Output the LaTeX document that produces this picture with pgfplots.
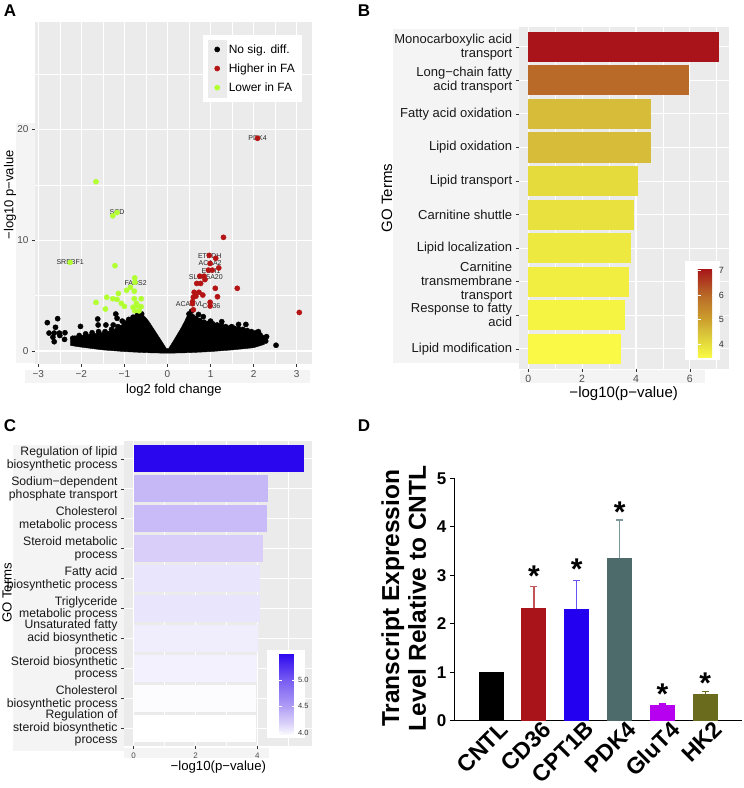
\documentclass[border=0pt]{standalone}
\usepackage{pgfplots}
\pgfplotsset{compat=1.18}
\usepackage{fontspec}
\setmainfont{Liberation Sans}
\definecolor{panelgray}{HTML}{EBEBEB}
\definecolor{stripgray}{HTML}{F4F4F4}
\definecolor{txtgray}{HTML}{4D4D4D}
\definecolor{ptred}{RGB}{180,20,20}
\definecolor{ptgreen}{RGB}{178,255,50}
\definecolor{bA}{RGB}{250,250,70}
\definecolor{bB}{RGB}{245,244,67}
\definecolor{bC}{RGB}{241,237,65}
\definecolor{bD}{RGB}{238,233,64}
\definecolor{bE}{RGB}{233,226,62}
\definecolor{bF}{RGB}{229,219,60}
\definecolor{bG}{RGB}{214,188,56}
\definecolor{bH}{RGB}{214,188,56}
\definecolor{bI}{RGB}{185,106,40}
\definecolor{bJ}{RGB}{168,20,25}
\definecolor{cA}{RGB}{255,255,255}
\definecolor{cB}{RGB}{252,252,255}
\definecolor{cC}{RGB}{243,241,254}
\definecolor{cD}{RGB}{240,238,253}
\definecolor{cE}{RGB}{233,229,252}
\definecolor{cF}{RGB}{233,229,252}
\definecolor{cG}{RGB}{216,206,249}
\definecolor{cH}{RGB}{200,187,247}
\definecolor{cI}{RGB}{198,184,247}
\definecolor{cJ}{RGB}{42,6,238}
\definecolor{dred}{RGB}{168,20,25}
\definecolor{dredl}{RGB}{196,84,88}
\definecolor{dblue}{RGB}{36,0,240}
\definecolor{dbluel}{RGB}{104,84,245}
\definecolor{dslate}{RGB}{78,107,107}
\definecolor{dslatel}{RGB}{125,152,152}
\definecolor{dpurp}{RGB}{184,0,240}
\definecolor{dolive}{RGB}{107,107,30}
\pgfplotsset{
 /pgf/number format/assume math mode=true,
 colormap={yr}{rgb255(0pt)=(250,250,70); rgb255(56pt)=(230,222,60); rgb255(113pt)=(214,188,56); rgb255(156pt)=(205,160,45); rgb255(256pt)=(184,106,40); rgb255(365pt)=(168,20,25)},
 colormap={wb}{rgb255(0pt)=(255,255,255); rgb255(4pt)=(243,241,254); rgb255(12pt)=(233,229,252); rgb255(23pt)=(216,206,249); rgb255(37pt)=(199,186,247); rgb255(54pt)=(175,157,246); rgb255(104pt)=(120,92,242); rgb255(155pt)=(42,6,238)},
}
\begin{document}
\begin{tikzpicture}
\path[use as bounding box] (0pt,0pt) rectangle (744pt,788pt);
\fill[stripgray] (16pt,425pt) rectangle (35pt,665pt);
\fill[stripgray] (25pt,405pt) rectangle (310pt,418pt);
\fill[stripgray] (392.7pt,425pt) rectangle (518.7pt,759pt);
\fill[stripgray] (520pt,405pt) rectangle (705pt,418pt);
\fill[stripgray] (13pt,37pt) rectangle (124pt,343pt);
\fill[stripgray] (124pt,29.7pt) rectangle (269.3pt,39.7pt);
\node[font=\bfseries\fontsize{17}{20}\selectfont, anchor=base] at (10pt,771.3pt) {A};
\node[font=\bfseries\fontsize{17}{20}\selectfont, anchor=base] at (364pt,771.3pt) {B};
\node[font=\bfseries\fontsize{17}{20}\selectfont, anchor=base] at (10pt,356.3pt) {C};
\node[font=\bfseries\fontsize{17}{20}\selectfont, anchor=base] at (364pt,356.3pt) {D};

%%%%%%%%%%%%%%%% PANEL A
\begin{axis}[
  at={(35pt,424pt)}, anchor=south west, scale only axis,
  width=276.7pt, height=342.3pt,
  xmin=-3.076, xmax=3.348, ymin=-1.17, ymax=29.72,
  axis background/.style={fill=panelgray},
  axis line style={draw=none},
  grid=both,
  major grid style={white, line width=1.1pt},
  minor grid style={white, line width=0.55pt},
  xtick={-3,-2,-1,0,1,2,3}, xticklabels={−3,−2,−1,0,1,2,3},
  ytick={0,10,20},
  minor xtick={-2.5,-1.5,-0.5,0.5,1.5,2.5},
  minor ytick={5,15,25},
  tick align=outside, major tick length=3pt, minor tick length=0pt,
  tick style={black!80, line width=0.5pt},
  xtick pos=bottom, ytick pos=left,
  ticklabel style={font=\fontsize{10}{12}\selectfont, text=txtgray},
  xlabel={log2 fold change}, ylabel={−log10 p−value},
  label style={font=\fontsize{13}{15}\selectfont},
  xlabel style={at={(axis description cs:0.502,-0.076)}, anchor=center},
  ylabel style={at={(axis description cs:-0.0904,0.494)}, anchor=center},
  legend style={at={(rel axis cs:0.965,0.962)}, anchor=north east, fill=white, draw=none,
    font=\fontsize{12}{14}\selectfont, inner xsep=5pt, inner ysep=5pt, row sep=0pt,
    nodes={inner xsep=2pt, inner ysep=0pt}},
  legend cell align=left,
  legend image code/.code={\fill[panelgray] (0pt,-9.35pt) rectangle (18.7pt,9.35pt); \fill (9.35pt,0pt) circle (2.6pt);},
]
\addplot[fill=black, draw=black, forget plot] coordinates {
(-2.25,0.5) (-2.25,1.0) (-2.12,1.25) (-1.95,1.45) (-1.75,1.55) (-1.55,1.65) (-1.35,1.8)
(-1.2,2.05) (-1.05,2.4) (-0.95,2.7) (-0.85,2.95) (-0.75,3.1) (-0.65,3.25) (-0.57,3.25)
(-0.5,3.0) (-0.42,2.6) (-0.32,2.0) (-0.22,1.4) (-0.12,0.8) (-0.03,0.25) (0.03,0.25)
(0.12,0.8) (0.22,1.45) (0.32,2.1) (0.40,2.7) (0.46,3.2) (0.52,3.3) (0.58,3.0) (0.68,2.75)
(0.8,2.55) (0.95,2.4) (1.1,2.3) (1.3,2.15) (1.5,2.0) (1.7,1.9) (1.9,1.75) (2.05,1.6)
(2.18,1.35) (2.25,1.0) (2.25,0.6) (2.0,0.3) (1.5,0.1) (1.0,-0.05) (0.5,-0.15) (0,-0.2)
(-0.5,-0.15) (-1.0,-0.05) (-1.5,0.1) (-2.0,0.35)} -- cycle;
\addplot[only marks, mark=*, mark size=2.6pt, color=black] coordinates {
(-2.79,2.56) (-2.55,2.92) (-2.60,2.14) (-2.75,1.62) (-2.63,1.62) (-2.51,1.62) (-2.38,1.65)
(-2.63,0.84) (-2.39,1.05) (-2.66,1.25) (-2.50,1.40) (-2.02,2.22) (-2.15,1.15) (-1.62,2.89)
(-1.61,2.35) (-1.43,2.35) (-1.20,3.34) (-1.17,2.95) (-1.26,2.35) (-1.05,2.7)
(-2.2,1.15) (-2.05,1.4) (-1.9,1.55) (-1.75,1.65) (-1.6,1.75) (-1.45,1.75) (-1.3,1.95)
(-1.15,2.2) (-1.0,2.55) (-0.9,2.85) (-0.8,3.05) (-0.7,3.25) (-0.6,3.35)
(0.5,3.35) (0.58,3.1) (0.66,2.95) (0.75,2.75) (0.85,2.6) (0.95,2.5) (1.05,2.45) (1.15,2.35)
(1.25,2.3) (1.35,2.2) (1.45,2.1) (1.55,2.05) (1.65,2.0) (1.75,1.95) (1.85,1.85) (1.95,1.75)
(2.05,1.65) (2.15,1.45) (2.22,1.2) (2.28,0.9)
(0.83,3.1) (0.72,3.3) (1.26,2.65) (1.49,2.2) (1.65,2.4) (1.82,2.4) (2.11,1.75) (2.3,1.3)
(2.52,0.52) (1.0,2.7) (0.56,3.6)};
\addlegendentry{No sig. diff.}
\addplot[only marks, mark=*, mark size=2.6pt, color=ptred] coordinates {
(2.09,19.2) (1.30,10.26) (0.97,8.63) (1.12,8.37) (0.99,7.9) (1.19,7.5) (0.95,7.3) (1.04,7.3)
(0.75,6.75) (0.85,6.75) (0.87,6.45) (0.68,6.1) (0.77,6.1) (1.11,5.66) (1.62,5.66) (0.62,5.3)
(0.73,5.3) (0.82,5.05) (0.60,4.85) (0.66,4.95) (1.16,4.9) (0.58,4.45) (0.99,4.4) (0.58,4.27)
(0.99,4.06) (0.60,3.72) (3.06,3.48)};
\addlegendentry{Higher in FA}
\addplot[only marks, mark=*, mark size=2.6pt, color=ptgreen] coordinates {
(-1.66,15.28) (-1.27,12.2) (-1.17,12.5) (-2.26,8.0) (-1.22,7.7) (-0.76,6.6) (-0.755,6.2)
(-0.86,5.75) (-0.95,5.48) (-0.77,5.4) (-1.14,5.2) (-1.41,4.85) (-1.27,4.72) (-1.17,4.66)
(-0.77,4.72) (-0.61,4.72) (-1.66,4.39) (-1.07,4.3) (-1.0,4.03) (-1.44,3.79) (-0.80,3.95)
(-0.70,4.1) (-0.61,4.0) (-0.76,3.64) (-0.66,3.62) (-0.72,4.3)};
\addlegendentry{Lower in FA}
\begin{scope}[every node/.style={font=\fontsize{7}{8}\selectfont, text=black!85, inner sep=0pt}]
\node at (axis cs:2.09,19.2) {PDK4};
\node at (axis cs:-1.17,12.5) {SCD};
\node at (axis cs:-2.26,8.0) {SREBF1};
\node at (axis cs:-0.74,6.15) {FADS2};
\node at (axis cs:0.98,8.6) {ETFDH};
\node at (axis cs:0.99,7.9) {ACAA2};
\node at (axis cs:1.01,7.2) {ECH1};
\node at (axis cs:0.89,6.7) {SLC25A20};
\node at (axis cs:0.52,4.2) {ACADVL};
\node at (axis cs:1.02,4.09) {CD36};
\end{scope}
\end{axis}

%%%%%%%%%%%%%%%% PANEL B
\begin{axis}[
  at={(518.7pt,419pt)}, anchor=south west, scale only axis,
  width=210pt, height=342.3pt,
  xmin=-0.354, xmax=7.444, ymin=0.4, ymax=10.6,
  axis background/.style={fill=panelgray},
  axis line style={draw=none},
  xmajorgrids, xminorgrids, ymajorgrids,
  major grid style={white, line width=1.1pt},
  minor grid style={white, line width=0.55pt},
  xtick={0,2,4,6}, minor xtick={1,3,5,7},
  ytick={1,2,3,4,5,6,7,8,9,10},
  yticklabels={Lipid modification, {Response to fatty\\acid}, {Carnitine\\transmembrane\\transport}, Lipid localization, Carnitine shuttle, Lipid transport, Lipid oxidation, Fatty acid oxidation, {Long−chain fatty\\acid transport}, {Monocarboxylic acid\\transport}},
  tick align=outside, major tick length=3pt, minor tick length=0pt,
  tick style={black!80, line width=0.5pt},
  xtick pos=bottom, ytick pos=left,
  xticklabel style={font=\fontsize{10.5}{12}\selectfont, text=txtgray},
  yticklabel style={font=\fontsize{13}{14}\selectfont, text=black!90, align=right},
  xlabel={−log10(p−value)}, ylabel={GO Terms},
  label style={font=\fontsize{15}{17}\selectfont},
  xlabel style={at={(axis description cs:0.5,-0.071)}, anchor=center},
  ylabel style={at={(axis description cs:-0.627,0.5)}, anchor=center},
  colormap name=yr, point meta min=3.44, point meta max=7.09,
  colorbar,
  colorbar style={at={(parent axis.south west)}, anchor=south west,
    xshift=170.6pt, yshift=11pt, scale only axis, width=17.4pt, height=89.5pt,
    ytick={4,5,6,7}, yticklabel pos=right,
    yticklabel style={font=\fontsize{9}{10}\selectfont, text=black!80},
    major tick length=3.5pt, tick align=inside, tick style={white, line width=0.6pt},
    axis line style={draw=none}},
]
\fill[white] (rel axis cs:0.790,0.026) rectangle (rel axis cs:0.957,0.3155);
\addplot[xbar, bar width=30.2pt, bar shift=0pt, fill=bA, draw=none] coordinates {(3.44,1)};
\addplot[xbar, bar width=30.2pt, bar shift=0pt, fill=bB, draw=none] coordinates {(3.60,2)};
\addplot[xbar, bar width=30.2pt, bar shift=0pt, fill=bC, draw=none] coordinates {(3.74,3)};
\addplot[xbar, bar width=30.2pt, bar shift=0pt, fill=bD, draw=none] coordinates {(3.81,4)};
\addplot[xbar, bar width=30.2pt, bar shift=0pt, fill=bE, draw=none] coordinates {(3.94,5)};
\addplot[xbar, bar width=30.2pt, bar shift=0pt, fill=bF, draw=none] coordinates {(4.06,6)};
\addplot[xbar, bar width=30.2pt, bar shift=0pt, fill=bG, draw=none] coordinates {(4.56,7)};
\addplot[xbar, bar width=30.2pt, bar shift=0pt, fill=bH, draw=none] coordinates {(4.57,8)};
\addplot[xbar, bar width=30.2pt, bar shift=0pt, fill=bI, draw=none] coordinates {(5.97,9)};
\addplot[xbar, bar width=30.2pt, bar shift=0pt, fill=bJ, draw=none] coordinates {(7.09,10)};
\end{axis}

%%%%%%%%%%%%%%%% PANEL C
\begin{axis}[
  at={(124pt,42pt)}, anchor=south west, scale only axis,
  width=188.3pt, height=305pt,
  xmin=-0.314, xmax=5.78, ymin=0.4, ymax=10.6,
  axis background/.style={fill=panelgray},
  axis line style={draw=none},
  xmajorgrids, xminorgrids, ymajorgrids,
  major grid style={white, line width=1.1pt},
  minor grid style={white, line width=0.55pt},
  xtick={0,2,4}, minor xtick={1,3,5},
  ytick={1,2,3,4,5,6,7,8,9,10},
  yticklabels={{Regulation of\\steroid biosynthetic\\process}, {Cholesterol\\biosynthetic process}, {Steroid biosynthetic\\process}, {Unsaturated fatty\\acid biosynthetic\\process}, {Triglyceride\\metabolic process}, {Fatty acid\\biosynthetic process}, {Steroid metabolic\\process}, {Cholesterol\\metabolic process}, {Sodium−dependent\\phosphate transport}, {Regulation of lipid\\biosynthetic process}},
  tick align=outside, major tick length=3pt, minor tick length=0pt,
  tick style={black!80, line width=0.5pt},
  xtick pos=bottom, ytick pos=left,
  xticklabel style={font=\fontsize{8}{9}\selectfont, text=txtgray},
  yticklabel style={font=\fontsize{12.2}{12.7}\selectfont, text=black!90, align=right},
  xlabel={−log10(p−value)}, ylabel={GO Terms},
  label style={font=\fontsize{13.2}{15}\selectfont},
  xlabel style={at={(axis description cs:0.501,-0.068)}, anchor=center},
  ylabel style={at={(axis description cs:-0.621,0.502)}, anchor=center},
  colormap name=wb, point meta min=3.96, point meta max=5.51,
  colorbar,
  colorbar style={at={(parent axis.south west)}, anchor=south west,
    xshift=146.7pt, yshift=11.2pt, scale only axis, width=15.3pt, height=81.7pt,
    ytick={4,4.5,5}, yticklabel pos=right,
    yticklabel style={font=\fontsize{7.5}{9}\selectfont, text=black!80, /pgf/number format/.cd, fixed, fixed zerofill, precision=1},
    major tick length=3pt, tick align=inside, tick style={white, line width=0.6pt},
    axis line style={draw=none}},
]
\fill[white] (rel axis cs:0.758,0.025) rectangle (rel axis cs:0.961,0.315);
\addplot[xbar, bar width=26.9pt, bar shift=0pt, fill=cA, draw=none] coordinates {(3.96,1)};
\addplot[xbar, bar width=26.9pt, bar shift=0pt, fill=cB, draw=none] coordinates {(3.97,2)};
\addplot[xbar, bar width=26.9pt, bar shift=0pt, fill=cC, draw=none] coordinates {(4.00,3)};
\addplot[xbar, bar width=26.9pt, bar shift=0pt, fill=cD, draw=none] coordinates {(4.02,4)};
\addplot[xbar, bar width=26.9pt, bar shift=0pt, fill=cE, draw=none] coordinates {(4.08,5)};
\addplot[xbar, bar width=26.9pt, bar shift=0pt, fill=cF, draw=none] coordinates {(4.08,6)};
\addplot[xbar, bar width=26.9pt, bar shift=0pt, fill=cG, draw=none] coordinates {(4.19,7)};
\addplot[xbar, bar width=26.9pt, bar shift=0pt, fill=cH, draw=none] coordinates {(4.31,8)};
\addplot[xbar, bar width=26.9pt, bar shift=0pt, fill=cI, draw=none] coordinates {(4.35,9)};
\addplot[xbar, bar width=26.9pt, bar shift=0pt, fill=cJ, draw=none] coordinates {(5.51,10)};
\end{axis}

%%%%%%%%%%%%%%%% PANEL D
\begin{axis}[
  at={(454.3pt,67.3pt)}, anchor=south west, scale only axis,
  width=287.7pt, height=242.4pt,
  xmin=-0.862, xmax=5.86, ymin=0, ymax=5,
  axis x line=bottom, axis y line=left, axis line style={-, line width=1.4pt},
  ytick={0,1,2,3,4,5}, xtick={0,1,2,3,4,5},
  xticklabels={CNTL,CD36,CPT1B,PDK4,GluT4,HK2},
  xtick style={draw=none},
  ytick style={line width=1.4pt, black},
  tick align=outside, major tick length=4.5pt,
  yticklabel style={font=\bfseries\fontsize{17}{20}\selectfont},
  xticklabel style={rotate=45, anchor=north east, inner sep=0pt, xshift=9pt, yshift=-1pt, font=\bfseries\fontsize{23}{25}\selectfont},
  ylabel={Transcript Expression\\Level Relative to CNTL},
  ylabel style={align=center, font=\bfseries\fontsize{24.5}{26.7}\selectfont, at={(axis description cs:-0.176,0.505)}, anchor=center},
]
\addplot[ybar, bar width=25pt, bar shift=0pt, fill=black, draw=none] coordinates {(0,1.0)};
\addplot[ybar, bar width=25pt, bar shift=0pt, fill=dred, draw=none,
  error bars/.cd, y dir=plus, y explicit, error bar style={color=dredl, line width=1.1pt},
  error mark options={rotate=90, mark size=3.5pt, line width=1.1pt, color=dredl}] coordinates {(1,2.32) +- (0,0.44)};
\addplot[ybar, bar width=25pt, bar shift=0pt, fill=dblue, draw=none,
  error bars/.cd, y dir=plus, y explicit, error bar style={color=dbluel, line width=1.1pt},
  error mark options={rotate=90, mark size=3.5pt, line width=1.1pt, color=dbluel}] coordinates {(2,2.30) +- (0,0.60)};
\addplot[ybar, bar width=25pt, bar shift=0pt, fill=dslate, draw=none,
  error bars/.cd, y dir=plus, y explicit, error bar style={color=dslatel, line width=1.1pt},
  error mark options={rotate=90, mark size=3.5pt, line width=1.1pt, color=dslatel}] coordinates {(3,3.35) +- (0,0.79)};
\addplot[ybar, bar width=25pt, bar shift=0pt, fill=dpurp, draw=none,
  error bars/.cd, y dir=plus, y explicit, error bar style={color=dpurp, line width=1.1pt},
  error mark options={rotate=90, mark size=3.5pt, line width=1.1pt, color=dpurp}] coordinates {(4,0.33) +- (0,0.015)};
\addplot[ybar, bar width=25pt, bar shift=0pt, fill=dolive, draw=none,
  error bars/.cd, y dir=plus, y explicit, error bar style={color=dolive, line width=1.1pt},
  error mark options={rotate=90, mark size=3.5pt, line width=1.1pt, color=dolive}] coordinates {(5,0.56) +- (0,0.035)};
\addplot[draw=none, mark=none, nodes near coords, point meta=explicit symbolic,
  nodes near coords style={anchor=center, font=\bfseries\fontsize{30}{30}\selectfont}]
  coordinates {(1,2.98) [*] (2,3.13) [*] (3,4.30) [*] (4,0.54) [*] (5,0.78) [*]};
\end{axis}
\end{tikzpicture}
\end{document}
